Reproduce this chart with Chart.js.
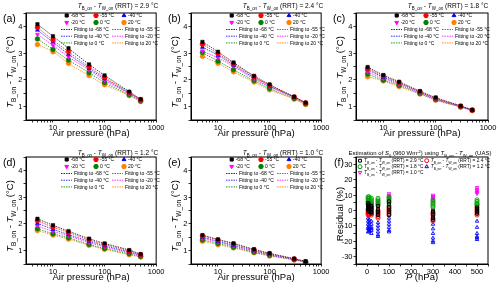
<!DOCTYPE html>
<html>
<head>
<meta charset="utf-8">
<script src="https://cdn.jsdelivr.net/npm/chart.js@4.4.1/dist/chart.umd.min.js"></script>
<style>
  html, body { margin: 0; padding: 0; background: #fff; }
  #wrap { position: relative; width: 500px; height: 288px; overflow: hidden; }
  #wrap canvas { position: absolute; }
</style>
</head>
<body>
<div id="wrap">
  <canvas id="pa" width="165" height="144" style="left:0;top:0"></canvas>
  <canvas id="pb" width="165" height="144" style="left:165px;top:0"></canvas>
  <canvas id="pc" width="170" height="144" style="left:330px;top:0"></canvas>
  <canvas id="pd" width="165" height="144" style="left:0;top:144px"></canvas>
  <canvas id="pe" width="165" height="144" style="left:165px;top:144px"></canvas>
  <canvas id="pf" width="170" height="144" style="left:330px;top:144px"></canvas>
</div>
<script>
// pressures (hPa) used in every panel
const pressures = [5, 10, 20, 50, 100, 300, 500];
const tempNames = ['-68 °C', '-55 °C', '-40 °C', '-20 °C', '0 °C', '20 °C'];
const logTicks = [4, 5, 6, 7, 8, 9, 10, 20, 30, 40, 50, 60, 70, 80, 90,
                  100, 200, 300, 400, 500, 600, 700, 800, 900, 1000];
const logLabels = [10, 100, 1000];

// T_B_on - T_W_on, rows: -68, -55, -40, -20, 0, 20 °C
const dA = [
  [4.08, 3.63, 3.18, 2.58, 2.17, 1.56, 1.28],
  [3.96, 3.49, 3.05, 2.49, 2.09, 1.53, 1.26],
  [3.86, 3.41, 2.96, 2.43, 2.04, 1.51, 1.25],
  [3.70, 3.29, 2.86, 2.37, 1.98, 1.48, 1.23],
  [3.53, 3.14, 2.74, 2.27, 1.90, 1.44, 1.21],
  [3.32, 3.05, 2.62, 2.16, 1.82, 1.41, 1.19]
];
const dB = [
  [3.42, 3.05, 2.65, 2.15, 1.83, 1.37, 1.15],
  [3.33, 2.98, 2.60, 2.12, 1.80, 1.36, 1.14],
  [3.22, 2.92, 2.55, 2.08, 1.77, 1.35, 1.14],
  [3.08, 2.82, 2.50, 2.03, 1.74, 1.33, 1.12],
  [3.02, 2.70, 2.38, 1.97, 1.68, 1.30, 1.10],
  [2.88, 2.62, 2.30, 1.92, 1.63, 1.28, 1.08]
];
const dC = [
  [2.48, 2.18, 1.93, 1.58, 1.34, 1.03, 0.88],
  [2.42, 2.15, 1.90, 1.56, 1.32, 1.02, 0.87],
  [2.38, 2.10, 1.87, 1.54, 1.30, 1.01, 0.87],
  [2.30, 2.05, 1.83, 1.51, 1.28, 1.00, 0.86],
  [2.22, 1.99, 1.79, 1.49, 1.26, 0.99, 0.86],
  [2.12, 1.96, 1.75, 1.47, 1.24, 0.98, 0.85]
];
const dD = [
  [2.19, 1.95, 1.73, 1.45, 1.27, 1.02, 0.87],
  [2.12, 1.88, 1.68, 1.40, 1.23, 0.99, 0.85],
  [2.02, 1.80, 1.60, 1.35, 1.18, 0.95, 0.83],
  [1.92, 1.72, 1.55, 1.30, 1.14, 0.92, 0.81],
  [1.82, 1.63, 1.48, 1.23, 1.08, 0.88, 0.78],
  [1.75, 1.58, 1.43, 1.20, 1.05, 0.85, 0.76]
];
const dE = [
  [1.58, 1.42, 1.27, 1.05, 0.90, 0.70, 0.60],
  [1.55, 1.40, 1.25, 1.03, 0.89, 0.69, 0.59],
  [1.50, 1.35, 1.20, 1.00, 0.86, 0.68, 0.59],
  [1.46, 1.32, 1.17, 0.97, 0.84, 0.67, 0.58],
  [1.40, 1.27, 1.13, 0.94, 0.82, 0.66, 0.57],
  [1.35, 1.22, 1.10, 0.92, 0.80, 0.65, 0.56]
];

// residuals (%) of S0, rows: pressure, cols: six chamber temperatures
const res29 = [
  [5, 4, 3, 2, 1, 0], [4, 3, 2, 1, 0, -1], [3, 2, 1, 0, -1, -2],
  [3, 1, 0, -1, -2, -3], [6, 4, 2, 0, -1, -3], [0, -1, -2, -4, -5, -6], [2, 1, 0, 0, -1, -2]
];
const res24 = [
  [1, 0, -1, -2, -2, -3], [1, 0, -1, -1, -2, -3], [2, 1, 0, -1, -2, -3],
  [0, -1, -2, -3, -4, -5], [2, 1, 0, -1, -2, -3], [-1, -2, -3, -5, -6, -7], [2, 1, 0, -1, -2, -3]
];
const res18 = [
  [9, 8, 7, 6, 5, 4], [9, 8, 7, 6, 5, 3], [8, 7, 6, 5, 4, 3],
  [8, 7, 6, 5, 4, 3], [9, 8, 7, 6, 5, 3], [7, 6, 5, 4, 3, 2], [7, 6, 5, 4, 4, 3]
];
const res12 = [
  [-5, -7, -9, -11, -12, -14], [-6, -8, -10, -12, -13, -14], [-7, -9, -11, -12, -13, -15],
  [-8, -10, -12, -14, -16, -17], [-5, -7, -9, -11, -13, -14], [-9, -12, -15, -18, -20, -21],
  [-7, -11, -15, -17, -18, -19]
];
const res10 = [
  [5, 5, 4, 4, 4, 3], [5, 4, 4, 3, 3, 2], [5, 4, 4, 3, 3, 2],
  [6, 5, 5, 4, 4, 3], [11, 10, 9, 9, 8, 8], [10, 9, 9, 8, 8, 7], [15, 14, 13, 12, 12, 11]
];

// styles
const FONT = '"Liberation Sans", Arial, sans-serif';
const tempColors = ['#000000', '#ff0000', '#0000ff', '#ff00ff', '#008000', '#ff8000'];
const fitColors = ['#333333', '#ff3030', '#3030ff', '#ff30ff', '#20a020', '#ff9020'];
const tempStyles = ['rect', 'circle', 'triangle', 'triangle', 'circle', 'circle'];
const tempRot = [0, 0, 0, 180, 0, 0];

const tbtw = [['T', 'i'], ['B_on', 'b'], [' - ', ''], ['T', 'i'], ['W_on', 'b']];

function segFont(k, size) {
  const s = (k === 'b' || k === 'p') ? size * 0.68 : size;
  return (k === 'i' ? 'italic ' : '') + s + 'px ' + FONT;
}

function drawRich(ctx, segs, x, y, size, align) {
  let w = 0;
  for (const [t, k] of segs) { ctx.font = segFont(k, size); w += ctx.measureText(t).width; }
  let cx = align === 'center' ? x - w / 2 : (align === 'right' ? x - w : x);
  ctx.textAlign = 'left';
  ctx.textBaseline = 'alphabetic';
  const base = y + size * 0.35;
  for (const [t, k] of segs) {
    ctx.font = segFont(k, size);
    const dy = k === 'b' ? size * 0.28 : (k === 'p' ? -size * 0.4 : 0);
    ctx.fillText(t, cx, base + dy);
    cx += ctx.measureText(t).width;
  }
}

function marker(ctx, style, rot, color, filled, x, y, r) {
  ctx.save();
  ctx.fillStyle = filled ? color : 'rgba(0,0,0,0)';
  ctx.strokeStyle = color;
  ctx.lineWidth = 1;
  Chart.helpers.drawPoint(ctx, { pointStyle: style, rotation: rot, radius: r, borderWidth: 1 }, x, y);
  ctx.restore();
}

function tempLegend(ctx) {
  const cols = [66.7, 96, 124];
  for (let i = 0; i < 6; i++) {
    const x = cols[i % 3], y = i < 3 ? 15.5 : 22.5;
    marker(ctx, tempStyles[i], tempRot[i], tempColors[i], true, x, y, 2.2);
    ctx.fillStyle = '#000';
    drawRich(ctx, [[tempNames[i], '']], x + 4, y, 5, 'left');
  }
  for (let i = 0; i < 6; i++) {
    const x0 = (i % 2) ? 112 : 61, y = 29.5 + Math.floor(i / 2) * 6.7;
    ctx.save();
    ctx.strokeStyle = fitColors[i];
    ctx.lineWidth = 1;
    ctx.setLineDash([1.5, 1]);
    ctx.beginPath(); ctx.moveTo(x0, y); ctx.lineTo(x0 + 11, y); ctx.stroke();
    ctx.restore();
    ctx.fillStyle = '#000';
    drawRich(ctx, [['Fitting to ' + tempNames[i], '']], x0 + 13, y, 5, 'left');
  }
}

const resNames = ['2.9', '2.4', '1.8', '1.2', '1.0'];
const resColors = ['#000000', '#ff0000', '#00a000', '#0000ff', '#ff00ff'];
const resStyles = ['rect', 'circle', 'circle', 'triangle', 'triangle'];
const resRot = [0, 0, 0, 0, 180];

function resLegend(ctx) {
  const pos = [[30, 16.7], [96.7, 16.7], [30, 22.7], [96.7, 22.7], [30, 28.5]];
  for (let i = 0; i < 5; i++) {
    const [x, y] = pos[i];
    marker(ctx, resStyles[i], resRot[i], resColors[i], false, x, y, 2);
    ctx.fillStyle = '#000';
    drawRich(ctx, tbtw.concat([[' (RRT) = ' + resNames[i] + ' °C', '']]), x + 4, y, 4.8, 'left');
  }
}

const decorPlugin = {
  id: 'decor',
  afterDraw(chart, args, o) {
    const ctx = chart.ctx, a = chart.chartArea, ys = chart.scales.y;
    ctx.save();
    ctx.strokeStyle = '#000';
    ctx.lineWidth = 1;
    ctx.strokeRect(a.left, a.top, a.right - a.left, a.bottom - a.top);
    ctx.save();
    ctx.translate(10, o.yTitleY);
    ctx.rotate(-Math.PI / 2);
    ctx.fillStyle = '#000';
    drawRich(ctx, o.yTitle, 0, 0, 9.5, 'center');
    ctx.restore();
    // y tick labels, placed by the y scale
    ctx.fillStyle = '#000';
    ctx.font = '7.5px ' + FONT;
    ctx.textAlign = 'right';
    ctx.textBaseline = 'middle';
    ys.ticks.forEach(t => {
      if (isMult(t.value, o.yLabelEvery)) {
        ctx.fillText(String(Math.round(t.value)), a.left - 3.5, ys.getPixelForValue(t.value) + 0.5);
      }
    });
    drawRich(ctx, [[o.letter, '']], o.letterX, 18.5, 10.5, 'left');
    drawRich(ctx, o.title, o.titleX, o.titleY, o.titleSize, 'center');
    drawRich(ctx, o.xTitle, (a.left + a.right) / 2, 132.5, 9.5, 'center');
    o.legend(ctx);
    ctx.restore();
  }
};

function isMult(v, m) { return Math.abs(v / m - Math.round(v / m)) < 1e-6; }

const gridOpts = { drawOnChartArea: false, drawTicks: true, tickLength: 2.5, color: '#000', lineWidth: 0.8 };
const borderOpts = { display: true, color: '#000', width: 1 };
const tickFont = { family: FONT, size: 7.5 };

function logX() {
  return {
    type: 'logarithmic', min: 3, max: 1000,
    afterBuildTicks: s => { s.ticks = logTicks.map(v => ({ value: v })); },
    afterFit: s => { s.height = 24; },
    grid: gridOpts, border: borderOpts,
    ticks: { font: tickFont, color: '#000', padding: 0.5, autoSkip: false, maxRotation: 0,
             callback: v => (logLabels.includes(v) ? String(v) : '') }
  };
}

function linY(min, max, step) {
  return {
    type: 'linear', min: min, max: max,
    afterFit: s => { s.width = 26; },
    grid: gridOpts, border: borderOpts,
    ticks: { display: false, stepSize: step, autoSkip: false }
  };
}

function tempDatasets(rows) {
  const pts = rows.map((r, i) => ({
    data: r.map((v, j) => ({ x: pressures[j], y: v })),
    pointStyle: tempStyles[i], rotation: tempRot[i], pointRadius: 2.4,
    pointBackgroundColor: tempColors[i], pointBorderColor: tempColors[i], pointBorderWidth: 0.5,
    showLine: false
  }));
  const fits = rows.map((r, i) => ({
    data: r.map((v, j) => ({ x: pressures[j], y: v })),
    showLine: true, pointRadius: 0, borderColor: fitColors[i], borderWidth: 0.9,
    borderDash: [1.5, 1], cubicInterpolationMode: 'monotone'
  }));
  return pts.concat(fits);
}

function makeChart(id, datasets, x, y, decor) {
  return new Chart(document.getElementById(id), {
    type: 'scatter',
    data: { datasets: datasets },
    options: {
      responsive: false, animation: false, devicePixelRatio: 1,
      layout: { padding: { top: 13, right: document.getElementById(id).width - 158, left: 0, bottom: 0 } },
      plugins: { legend: { display: false }, tooltip: { enabled: false }, decor: decor },
      scales: { x: x, y: y }
    },
    plugins: [decorPlugin]
  });
}

const yTitleT = tbtw.concat([[' (°C)', '']]);
const xTitleT = [['Air pressure (hPa)', '']];
function rrtTitle(v) { return tbtw.concat([[' (RRT) = ' + v + ' °C', '']]); }

const panels = [
  ['pa', dA, '(a)', '2.9', 6],
  ['pb', dB, '(b)', '2.4', 6],
  ['pc', dC, '(c)', '1.8', 6],
  ['pd', dD, '(d)', '1.2', 8.5],
  ['pe', dE, '(e)', '1.0', 8.5]
];
panels.forEach(([id, rows, letter, rrt, ty]) => {
  makeChart(id, tempDatasets(rows), logX(), linY(0.5, 4.5, 0.5), {
    letter: letter, letterX: 3, title: rrtTitle(rrt), titleX: 118, titleY: ty, titleSize: 6.5,
    xTitle: xTitleT, yTitle: yTitleT, yTitleY: 72, yLabelEvery: 1, legend: tempLegend
  });
});

function resPoints(rows) {
  const pts = [];
  rows.forEach((vals, i) => vals.forEach(v => pts.push({ x: pressures[i], y: v })));
  return pts;
}
const resRows = [res29, res24, res18, res12, res10];
const resSets = resRows.map((rows, i) => ({
  data: resPoints(rows), showLine: false,
  pointStyle: resStyles[i], rotation: resRot[i], pointRadius: 2,
  pointBackgroundColor: 'rgba(0,0,0,0)', pointBorderColor: resColors[i], pointBorderWidth: 0.9
}));

makeChart('pf', resSets, {
  type: 'linear', min: -50, max: 550,
  afterFit: s => { s.height = 24; },
  grid: gridOpts, border: borderOpts,
  ticks: { font: tickFont, color: '#000', padding: 0.5, stepSize: 50, autoSkip: false, maxRotation: 0,
           callback: v => (isMult(v, 100) ? String(Math.round(v)) : '') }
}, linY(-35, 35, 5), {
  letter: '(f)', letterX: 4,
  title: [['Estimation of ', ''], ['S', 'i'], ['0', 'b'], [' (960 Wm', ''], ['-2', 'p'], [') using ', '']]
    .concat(tbtw).concat([[' (UAS)', '']]),
  titleX: 90, titleY: 9.3, titleSize: 6,
  xTitle: [['P', 'i'], [' (hPa)', '']], yTitle: [['Residual (%)', '']], yTitleY: 70,
  yLabelEvery: 10, legend: resLegend
});
</script>
</body>
</html>
